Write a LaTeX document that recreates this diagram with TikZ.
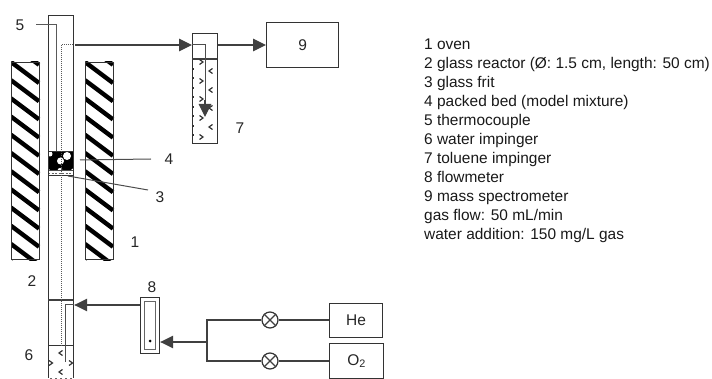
\documentclass[tikz,border=0pt]{standalone}
\usepackage{fontspec}
\setmainfont{Liberation Sans}
\usetikzlibrary{arrows.meta}

\tikzset{
	unit/.style={draw=black!80, line width=1.2pt, inner sep=0pt, anchor=north west},
	pipe/.style={draw=black!75, line width=1.2pt},
	flow/.style={pipe, -{Triangle[length=13pt, width=12.5pt]}},
	lead/.style={draw=black!70, line width=1pt},
	tag/.style={font=\fontsize{15.5}{17}\selectfont, text=black!85, inner sep=0pt},
	valve/.style={circle, draw=black!80, line width=1.2pt, minimum size=16pt, inner sep=0pt},
	bubble/.style={draw=black!80, line width=1.2pt}
}

\begin{document}
\begin{tikzpicture}[x=1pt, y=-1pt]
\useasboundingbox (0,0) rectangle (712,379);

% oven
\node[unit, minimum width=28pt, minimum height=197pt] (ovenL) at (11,62) {};
\node[unit, minimum width=28pt, minimum height=197pt] (ovenR) at (85,62) {};
\foreach \side in {ovenL, ovenR} {
	\begin{scope}
		\clip (\side.north west) rectangle (\side.south east);
		\foreach \k in {-2,...,11}
			\draw[line width=4.4pt] ([yshift=-\k*18.2pt]\side.north west) -- ++(28pt,-21pt);
	\end{scope}
	\node[unit, minimum width=28pt, minimum height=197pt, anchor=center] at (\side) {};
}

% packed bed
\begin{scope}
	\clip (48,151) rectangle (73,171);
	\fill[black] (48,151) rectangle (73,171);
	\fill[white] (60.5,161) circle (3.5);
	\fill[white] (67,156) circle (4);
	\fill[white] (50,154) circle (2.5);
	\fill[white] (60,170.5) circle (2.5);
	\fill[white] (48.5,170.5) circle (1.8);
	\fill[white] (72.5,170.5) circle (1.8);
\end{scope}
\draw[lead] (48,171) -- (73,171);
\draw[black!60, line width=0.8pt, dash pattern=on 2pt off 1.5pt] (48,173) -- (73,173);

% reactor
\node[unit, minimum width=25pt, minimum height=364pt] (reactor) at (48,15) {};
\node[unit, minimum width=25pt, minimum height=24pt] (bed) at (48,151) {};
\draw[pipe] (48,300) -- (73,300);
\node[unit, minimum width=25pt, minimum height=33pt] (water) at (48,345) {};
\draw[white, line width=1.6pt] (47,378.4) -- (74,378.4);
\draw[black!60, line width=0.8pt, dash pattern=on 2pt off 3pt] (50,378) -- (72,378);

% thermocouple
\coordinate (probe) at (36,25);
\draw[draw=black!65, line width=1pt] (probe) -- (56,25) -- (56,151);
\draw[black!65, line width=1pt, dash pattern=on 1pt off 1pt] (73,45) -- (61,45) -- (61,346);

% toluene impinger
\node[unit, minimum width=25pt, minimum height=110pt] (toluene) at (192,33) {};
\draw[pipe] (192,59) -- (217,59);
\foreach \y in {62,81,99,118,137}
	\draw[bubble] (199.5,\y-2.5) -- (203,\y) -- (199.5,\y+2.5);
\foreach \y in {71,90,108,127}
	\draw[bubble] (212.5,\y-2.5) -- (209,\y) -- (212.5,\y+2.5);
\foreach \y in {68,77,87,96,106,115,125,134}
	\fill[black!80] (192.5,\y) rectangle ++(1.8,1.8);

% water marks
\foreach \x/\y in {62.5/353, 62.5/372}
	\draw[bubble] (\x,\y-2.5) -- (\x-3.5,\y) -- (\x,\y+2.5);
\foreach \x/\y in {49/363, 69/363}
	\draw[bubble] (\x,\y-2.5) -- (\x+3.5,\y) -- (\x,\y+2.5);

% spectrometer and gases
\node[unit, minimum width=72pt, minimum height=45pt, tag] (ms) at (266,22) {9};
\node[unit, minimum width=53pt, minimum height=34pt, tag] (he) at (329,303) {He};
\node[unit, minimum width=54pt, minimum height=35pt, tag] (oxygen) at (329,343) {O\textsubscript{2}};

% flowmeter
\node[unit, minimum width=19pt, minimum height=56pt] (meter) at (140,297) {};
\node[draw=black!60, line width=1pt, inner sep=0pt, minimum width=11pt, minimum height=48pt] (tube) at (meter.center) {};
\fill[black] (150,341) circle (1.5);

% valves
\node[valve] (valveA) at (270,320) {};
\node[valve] (valveB) at (270,361) {};
\foreach \v in {valveA, valveB} {
	\draw[pipe] (\v.north west) -- (\v.south east);
	\draw[pipe] (\v.north east) -- (\v.south west);
}

% lines
\coordinate (split) at (207,342);
\draw[pipe] (he.west |- valveA) -- (valveA);
\draw[pipe] (oxygen.west |- valveB) -- (valveB);
\draw[pipe] (valveA) -- (207,320) -- (207,361) -- (valveB);
\draw[flow] (split) -- (meter.east |- split);
\draw[flow] (meter.west |- 0,305) -- (reactor.east |- 0,305);
\draw[draw=black!70, line width=1pt] (reactor.east |- 0,305) -- (65,305) -- (65,362);
\draw[flow] (75,45) -- (toluene.west |- 0,45);
\draw[flow] (toluene.east |- 0,45) -- (ms.west |- 0,45);
\draw[draw=black!70, line width=1pt] (toluene.west |- 0,45) -- (205,45) -- (205,105);
\draw[flow] (205,100) -- (205,117);

% labels
\node[tag] (lab5) at (20,25) {5};
\node[tag] (lab4) at (169,159) {4};
\node[tag] (lab3) at (160,197) {3};
\node[tag] (lab1) at (135,242) {1};
\node[tag] (lab2) at (32,281) {2};
\node[tag] (lab6) at (29,355) {6};
\node[tag] (lab7) at (240,128) {7};
\node[tag] (lab8) at (152,287) {8};
\draw[lead] (80,160) -- (lab4.west -| 151,0);
\draw[lead] (68,176) -- (148,190);

% legend
\node[anchor=north west, inner sep=0pt, align=left, font=\fontsize{15.45}{19}\selectfont, text=black!90] (legend) at (424,38.8) {1 oven\\
2 glass reactor (Ø: 1.5 cm, length: 50 cm)\\
3 glass frit\\
4 packed bed (model mixture)\\
5 thermocouple\\
6 water impinger\\
7 toluene impinger\\
8 flowmeter\\
9 mass spectrometer\\
gas flow: 50 mL/min\\
water addition: 150 mg/L gas};
\end{tikzpicture}
\end{document}
